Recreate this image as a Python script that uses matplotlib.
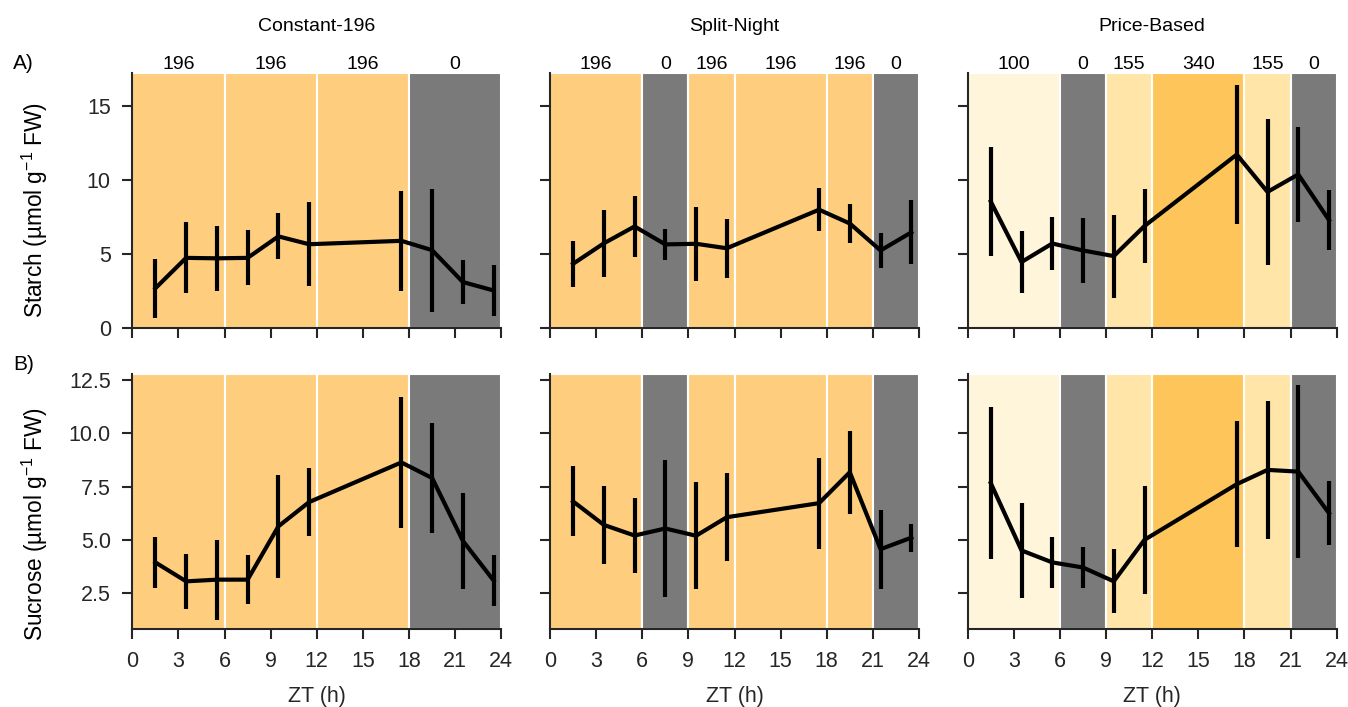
import numpy as np
import matplotlib
matplotlib.use('Agg')
import matplotlib.pyplot as plt
import matplotlib.transforms as mtransforms

plt.rcParams['font.family'] = ['Liberation Sans', 'DejaVu Sans']
plt.rcParams['mathtext.fontset'] = 'custom'
plt.rcParams['mathtext.rm'] = 'Liberation Sans'
plt.rcParams['mathtext.default'] = 'regular'

# sampling times (ZT, h)
zt = [1.5, 3.5, 5.5, 7.5, 9.5, 11.5, 17.5, 19.5, 21.5, 23.5]

schedules = ['Constant-196', 'Split-Night', 'Price-Based']

# light periods per schedule: start, end, light level
const_bands = [(0, 6, 196), (6, 12, 196), (12, 18, 196), (18, 24, 0)]
split_bands = [(0, 6, 196), (6, 9, 0), (9, 12, 196), (12, 18, 196), (18, 21, 196), (21, 24, 0)]
price_bands = [(0, 6, 100), (6, 9, 0), (9, 12, 155), (12, 18, 340), (18, 21, 155), (21, 24, 0)]

# starch (umol g-1 FW), mean and error
starch_const = [2.7, 4.75, 4.72, 4.75, 6.2, 5.67, 5.9, 5.27, 3.12, 2.55]
starch_const_err = [2.0, 2.4, 2.2, 1.85, 1.55, 2.85, 3.37, 4.15, 1.5, 1.7]
starch_split = [4.35, 5.73, 6.87, 5.66, 5.7, 5.4, 8.0, 7.07, 5.25, 6.47]
starch_split_err = [1.54, 2.27, 2.05, 1.05, 2.5, 2.0, 1.47, 1.29, 1.2, 2.16]
starch_price = [8.55, 4.47, 5.72, 5.25, 4.87, 6.9, 11.72, 9.2, 10.38, 7.3]
starch_price_err = [3.7, 2.1, 1.8, 2.2, 2.8, 2.5, 4.7, 4.9, 3.2, 2.0]

# sucrose (umol g-1 FW), mean and error
sucrose_const = [3.94, 3.05, 3.13, 3.13, 5.63, 6.77, 8.63, 7.9, 4.95, 3.09]
sucrose_const_err = [1.18, 1.3, 1.88, 1.15, 2.4, 1.6, 3.08, 2.57, 2.25, 1.2]
sucrose_split = [6.8, 5.7, 5.2, 5.53, 5.19, 6.06, 6.72, 8.17, 4.56, 5.1]
sucrose_split_err = [1.64, 1.83, 1.75, 3.22, 2.52, 2.07, 2.14, 1.94, 1.86, 0.65]
sucrose_price = [7.66, 4.5, 3.94, 3.7, 3.05, 5.0, 7.61, 8.28, 8.2, 6.25]
sucrose_price_err = [3.57, 2.25, 1.2, 0.94, 1.5, 2.54, 2.97, 3.22, 4.07, 1.5]

band_colors = {0: '#7a7a7a', 100: '#fff5da', 155: '#ffe5a8', 196: '#fece7e', 340: '#fec65a'}

bands = [const_bands, split_bands, price_bands]
starch = [(starch_const, starch_const_err), (starch_split, starch_split_err),
          (starch_price, starch_price_err)]
sucrose = [(sucrose_const, sucrose_const_err), (sucrose_split, sucrose_split_err),
           (sucrose_price, sucrose_price_err)]

fig = plt.figure(figsize=(13.48, 7.07), dpi=100)
W, H = 1348.0, 707.0
lefts = [132.3, 550.0, 967.7]
axw = 369.0
rows = [(73.3, 328.3), (374.0, 629.3)]

dark = '#262626'
axes = []
for r, (top, bot) in enumerate(rows):
    row_axes = []
    for c in range(3):
        ax = fig.add_axes([lefts[c] / W, 1 - bot / H, axw / W, (bot - top) / H])
        row_axes.append(ax)
    axes.append(row_axes)

for r, data in enumerate([starch, sucrose]):
    for c in range(3):
        ax = axes[r][c]
        for (s, e, lvl) in bands[c]:
            ax.axvspan(s, e, facecolor=band_colors[lvl], edgecolor='white',
                       linewidth=1.5, zorder=0)
            if r == 0:
                trans = mtransforms.blended_transform_factory(ax.transData, ax.transAxes)
                ax.text((s + e) / 2, 1.016, str(lvl), transform=trans, ha='center',
                        va='baseline', fontsize=14, color='black')
        mean, err = data[c]
        ax.errorbar(zt, mean, yerr=err, color='black', lw=3, elinewidth=3,
                    capsize=0, zorder=3)
        ax.set_xlim(0, 24)
        ax.set_xticks(range(0, 25, 3))
        if r == 0:
            ax.set_ylim(0, 17.2)
            ax.set_yticks([0, 5, 10, 15])
            ax.set_xticklabels([])
            ax.text(0.5, 1.167, schedules[c], transform=ax.transAxes, ha='center',
                    va='baseline', fontsize=14, color='black')
        else:
            ax.set_ylim(0.8, 12.78)
            ax.set_yticks([2.5, 5.0, 7.5, 10.0, 12.5])
            ax.set_xlabel('ZT (h)', fontsize=15.5, color=dark, labelpad=10)
        if c > 0:
            ax.set_yticklabels([])
        for side in ['top', 'right']:
            ax.spines[side].set_visible(False)
        for side in ['left', 'bottom']:
            ax.spines[side].set_color(dark)
            ax.spines[side].set_linewidth(1.5)
        ax.tick_params(direction='out', length=7.5, width=1.5, pad=8,
                       labelsize=15.5, color=dark, labelcolor=dark)

axes[0][0].set_ylabel('Starch (µmol g$^{-1}$ FW)', fontsize=16.3, color='black')
axes[0][0].yaxis.set_label_coords(-0.222, 0.464)
axes[1][0].set_ylabel('Sucrose (µmol g$^{-1}$ FW)', fontsize=16.3, color='black')
axes[1][0].yaxis.set_label_coords(-0.222, 0.41)

fig.text(13 / W, 1 - 69 / H, 'A)', fontsize=15, va='baseline', ha='left')
fig.text(13 / W, 1 - 370 / H, 'B)', fontsize=15, va='baseline', ha='left')

fig.savefig('out.png', dpi=100)
